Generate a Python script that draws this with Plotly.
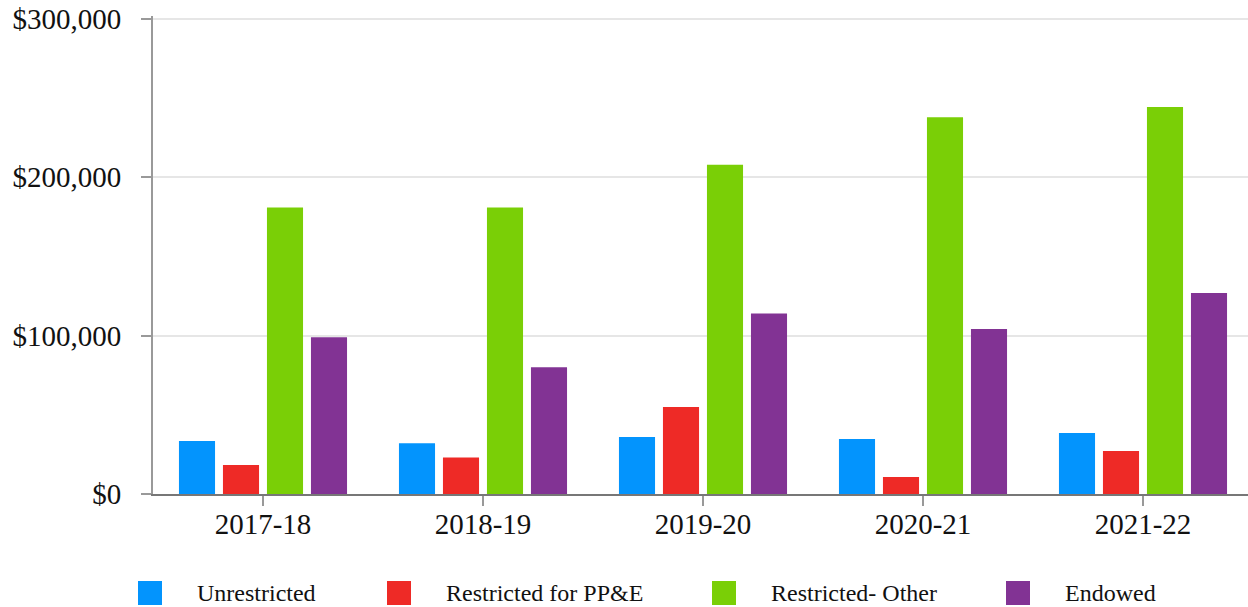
import plotly.graph_objects as go

# ---- data ----
categories = ["2017-18", "2018-19", "2019-20", "2020-21", "2021-22"]
series_names = ["Unrestricted", "Restricted for PP&E", "Restricted- Other", "Endowed"]
unrestricted = [33500, 32000, 36000, 34700, 38500]
restricted_ppe = [18300, 23000, 55000, 10700, 27200]
restricted_other = [181000, 181000, 208000, 238000, 244500]
endowed = [99000, 80000, 114000, 104200, 127000]
y_tickvals = [0, 100000, 200000, 300000]
y_ticktext = ["$0", "$100,000", "$200,000", "$300,000"]

# ---- style ----
colors = ["#0394fd", "#ee2a26", "#7acf06", "#823394"]
FONT = "Liberation Serif, Times New Roman, serif"
W, H = 1248, 607
ML, MR, MT = 153, 0, 16
PH = 478
MB = H - MT - PH
PW = W - ML - MR
CAT_PX = 220  # pixel width of one category slot
x_range = [-0.5, -0.5 + PW / CAT_PX]
y_range = [0, 301900]

fig = go.Figure()
for name, vals, col in zip(series_names,
                           [unrestricted, restricted_ppe, restricted_other, endowed],
                           colors):
    fig.add_trace(go.Bar(x=categories, y=vals, name=name, marker_color=col,
                         marker_line_width=0, showlegend=False))

# ---- manual legend (large square swatches), positions in page pixels ----
legend_swatch_px = [138, 387, 712, 1006]
legend_text_offset = 58
sw = 24
leg_top, leg_bot = 581, 605
def px2x(px):
    return (px - ML) / PW
def py2y(py):
    return (MT + PH - py) / PH
for name, col, sx in zip(series_names, colors, legend_swatch_px):
    fig.add_shape(type="rect", xref="paper", yref="paper",
                  x0=px2x(sx), x1=px2x(sx + sw), y0=py2y(leg_bot), y1=py2y(leg_top),
                  fillcolor=col, line_width=0)
    fig.add_annotation(xref="paper", yref="paper", x=px2x(sx + legend_text_offset),
                       y=py2y((leg_top + leg_bot) / 2), text=name, showarrow=False,
                       xanchor="left", yanchor="middle", borderpad=0,
                       font=dict(family=FONT, size=24, color="#111111"))

fig.update_layout(
    width=W, height=H,
    margin=dict(l=ML, r=MR, t=MT, b=MB, pad=0),
    paper_bgcolor="white", plot_bgcolor="white",
    barmode="group", bargap=0.2, bargroupgap=0.18,
    font=dict(family=FONT, size=29, color="#111111"),
    showlegend=False,
)
fig.update_xaxes(
    range=x_range,
    showline=True, linecolor="#777777", linewidth=2,
    ticks="outside", ticklen=10, tickwidth=2, tickcolor="#999999",
    showgrid=False, ticklabelstandoff=-7,
    tickfont=dict(family=FONT, size=29, color="#111111"),
)
fig.update_yaxes(
    range=y_range, tickvals=y_tickvals, ticktext=y_ticktext,
    showline=True, linecolor="#999999", linewidth=2,
    ticks="outside", ticklen=10, tickwidth=2, tickcolor="#999999",
    showgrid=True, gridcolor="#e6e6e6", gridwidth=2, zeroline=False,
    ticklabelstandoff=14,
    tickfont=dict(family=FONT, size=29, color="#111111"),
)

fig.write_html(
    "out.html",
    config={"displayModeBar": False},
    post_script="document.body.style.margin='0px';document.body.style.overflow='hidden';",
)
